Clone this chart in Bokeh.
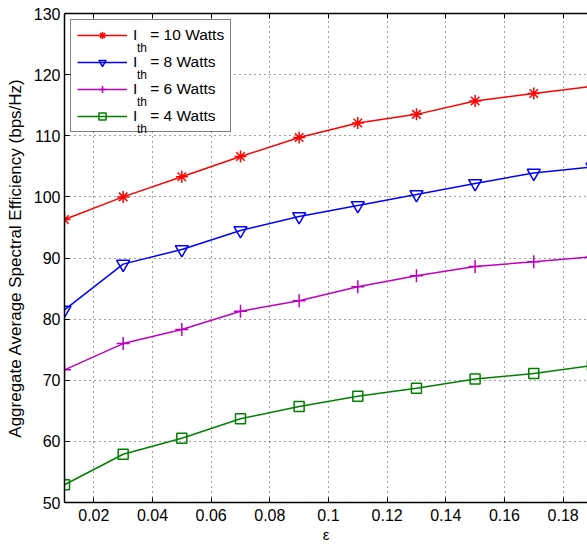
from bokeh.plotting import figure
from bokeh.models import Range1d, FixedTicker, LinearAxis, Legend, LegendItem, Label, BoxAnnotation
from bokeh.embed import file_html
from bokeh.resources import INLINE

# ---------------- data ----------------
eps = [0.01, 0.03, 0.05, 0.07, 0.09, 0.11, 0.13, 0.15, 0.17, 0.19]
se_10w = [96.3, 100.0, 103.3, 106.6, 109.7, 112.1, 113.5, 115.7, 116.9, 118.1]
se_8w = [81.5, 89.0, 91.4, 94.5, 96.8, 98.6, 100.4, 102.2, 103.9, 104.9]
se_6w = [71.7, 76.0, 78.3, 81.3, 83.0, 85.3, 87.1, 88.6, 89.4, 90.2]
se_4w = [52.9, 57.9, 60.5, 63.7, 65.7, 67.4, 68.7, 70.2, 71.1, 72.4]
series_names = ["10 Watts", "8 Watts", "6 Watts", "4 Watts"]

x_ticks = [0.02, 0.04, 0.06, 0.08, 0.10, 0.12, 0.14, 0.16, 0.18]
x_tick_labels = ["0.02", "0.04", "0.06", "0.08", "0.1", "0.12", "0.14", "0.16", "0.18"]
y_ticks = [50, 60, 70, 80, 90, 100, 110, 120, 130]
y_tick_labels = ["50", "60", "70", "80", "90", "100", "110", "120", "130"]

# ---------------- layout ----------------
W, H = 587, 548
LEFT, TOP, BOTTOM = 64, 13, 46
FRAME_W = W - LEFT
FRAME_H = H - TOP - BOTTOM
PX_PER_X = 2933.0
X0 = 0.01
X1 = X0 + FRAME_W / PX_PER_X
Y0, Y1 = 50, 130
PX_PER_Y = FRAME_H / (Y1 - Y0)


def sx(px):
    return X0 + (px - LEFT) / PX_PER_X


def sy(py):
    return Y1 - (py - TOP) / PX_PER_Y


FONT = "Liberation Sans"

p = figure(width=W, height=H, output_backend="svg", toolbar_location=None,
           x_range=Range1d(X0, X1), y_range=Range1d(Y0, Y1),
           min_border_left=LEFT, min_border_top=TOP, min_border_right=0,
           min_border_bottom=BOTTOM)
p.outline_line_color = None
p.background_fill_color = "white"
p.border_fill_color = "white"

# axes
for ax in (p.xaxis[0], p.yaxis[0]):
    ax.major_tick_in = 5
    ax.major_tick_out = 0
    ax.minor_tick_line_color = None
    ax.axis_line_width = 1.5
    ax.axis_line_color = "black"
    ax.major_tick_line_color = "black"
    ax.major_label_text_font = FONT
    ax.major_label_text_font_size = "16px"
    ax.major_label_text_color = "black"
    ax.axis_label_text_font = FONT
    ax.axis_label_text_font_style = "normal"
    ax.axis_label_text_color = "black"

p.xaxis.ticker = FixedTicker(ticks=x_ticks)
p.xaxis.major_label_overrides = dict(zip(x_ticks, x_tick_labels))
p.xaxis.major_label_standoff = 6
p.xaxis.axis_label = "ε"
p.xaxis.axis_label_text_font_size = "15px"
p.xaxis.axis_label_standoff = 2

p.yaxis.ticker = FixedTicker(ticks=y_ticks)
p.yaxis.major_label_overrides = dict(zip(y_ticks, y_tick_labels))
p.yaxis.major_label_standoff = 4
p.yaxis.axis_label = "Aggregate Average Spectral Efficiency (bps/Hz)"
p.yaxis.axis_label_text_font_size = "17px"
p.yaxis.axis_label_standoff = 6

top_axis = LinearAxis(ticker=FixedTicker(ticks=x_ticks), major_tick_in=5, major_tick_out=0,
                      minor_tick_line_color=None,
                      major_label_overrides={t: "" for t in x_ticks},
                      major_label_standoff=0, axis_line_width=1.5, axis_line_color="black")
p.add_layout(top_axis, "above")

# grid
for g in (p.xgrid[0], p.ygrid[0]):
    g.grid_line_color = "black"
    g.grid_line_alpha = 0.75
    g.grid_line_dash = "1 4"
    g.grid_line_width = 1
p.xgrid.ticker = FixedTicker(ticks=x_ticks)
p.ygrid.ticker = FixedTicker(ticks=y_ticks)

# white background for the legend area (above grid, below everything else)
LEG_MARGIN, LEG_PAD, LEG_ITEM, LEG_SP, GLYPH_W, STANDOFF = 6, 6, 18, 9, 50, 6
leg_left = LEFT + LEG_MARGIN
leg_top = TOP + LEG_MARGIN
leg_bottom = leg_top + 2 * LEG_PAD + 4 * LEG_ITEM + 3 * LEG_SP
p.add_layout(BoxAnnotation(left=sx(leg_left + 1), right=sx(231), top=sy(leg_top + 1),
                           bottom=sy(leg_bottom - 1), fill_color="white", fill_alpha=1.0,
                           line_color=None, level="underlay"))

# series
styles = [
    (se_10w, "#ff0000", "asterisk", 12, "#ff0000"),
    (se_8w, "#0000ff", "inverted_triangle", 13, None),
    (se_6w, "#bf00bf", "cross", 13, "#bf00bf"),
    (se_4w, "#008000", "square", 10, None),
]
items = []
for (vals, color, marker, size, fill), name in zip(styles, series_names):
    lr = p.line(eps, vals, line_color=color, line_width=1.5)
    sr = p.scatter(eps, vals, marker=marker, size=size, line_color=color,
                   fill_color=fill if fill else None, line_width=1.5)
    items.append(LegendItem(label="I\u00a0\u00a0\u00a0= " + name, renderers=[lr, sr]))

legend = Legend(items=items, location="top_left", margin=LEG_MARGIN, padding=LEG_PAD,
                spacing=LEG_SP, glyph_width=GLYPH_W, glyph_height=LEG_ITEM,
                label_height=LEG_ITEM, label_standoff=STANDOFF,
                label_text_font=FONT, label_text_font_size="15.5px", label_text_color="black",
                border_line_color="black", border_line_width=1.2,
                background_fill_alpha=0.0)
p.add_layout(legend)

# subscripts "th" for the legend labels
for i in range(len(series_names)):
    cy = leg_top + LEG_PAD + LEG_ITEM / 2 + i * (LEG_ITEM + LEG_SP)
    base = cy + 13
    lx = leg_left + LEG_PAD + GLYPH_W + STANDOFF + 4.5
    p.add_layout(Label(x=sx(lx), y=sy(base), text="th", text_font=FONT,
                       text_font_size="12px", text_baseline="alphabetic",
                       text_color="black"))

open("out.html", "w").write(file_html(p, INLINE))
